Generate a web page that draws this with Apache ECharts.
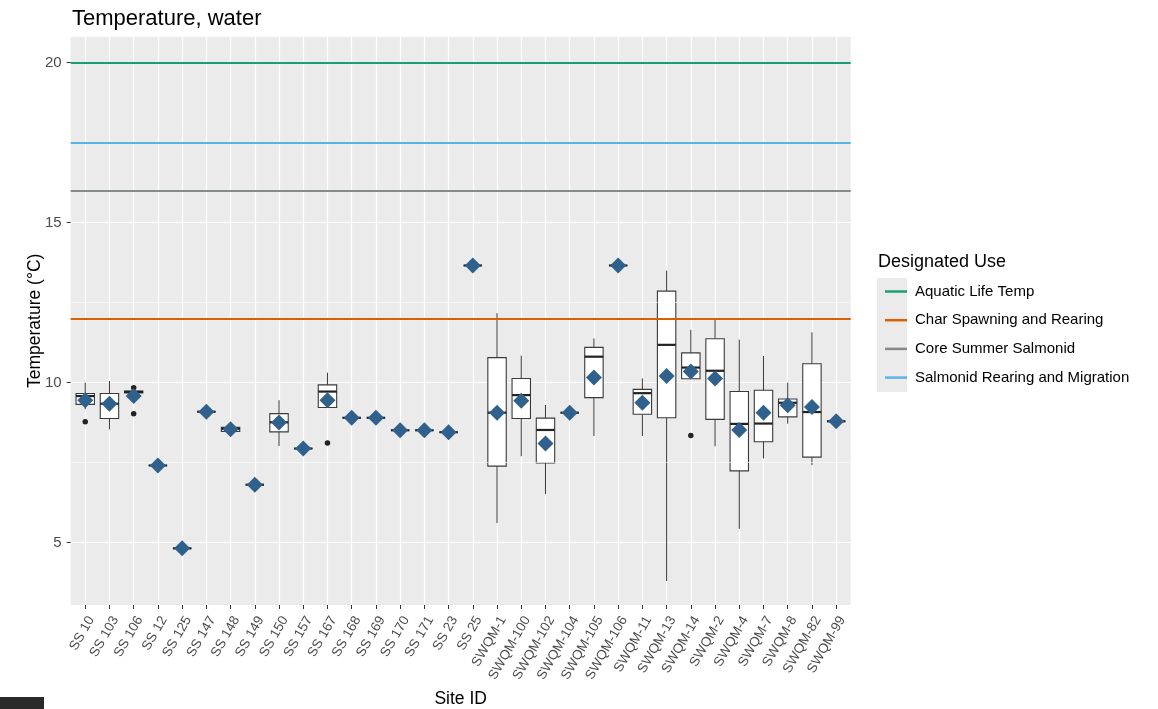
<!DOCTYPE html>
<html>
<head>
<meta charset="utf-8">
<script src="https://cdn.jsdelivr.net/npm/echarts@6/dist/echarts.min.js"></script>
<style>
  html, body { margin: 0; padding: 0; background: #fff; }
  #chart { width: 1158px; height: 709px; }
</style>
</head>
<body>
<div id="chart"></div>
<script>
// site ids on the x axis
var sites = ['SS 10', 'SS 103', 'SS 106', 'SS 12', 'SS 125', 'SS 147', 'SS 148', 'SS 149', 'SS 150',
  'SS 157', 'SS 167', 'SS 168', 'SS 169', 'SS 170', 'SS 171', 'SS 23', 'SS 25',
  'SWQM-1', 'SWQM-100', 'SWQM-102', 'SWQM-104', 'SWQM-105', 'SWQM-106', 'SWQM-11', 'SWQM-13',
  'SWQM-14', 'SWQM-2', 'SWQM-4', 'SWQM-7', 'SWQM-8', 'SWQM-82', 'SWQM-99'];

// box stats per site (whisker low, q1, median, q3, whisker high)
var whiskerLow = [9.17, 8.54, 9.68, 7.41, 4.82, 9.09, 8.47, 6.81, 8.02, 7.94, 9.22, 8.90, 8.90, 8.51, 8.51, 8.45, 13.66,
  5.61, 7.70, 6.52, 9.06, 8.33, 13.66, 8.33, 3.80, 10.12, 8.01, 5.43, 7.63, 8.72, 7.42, 8.79];
var q1 = [9.32, 8.88, 9.68, 7.41, 4.82, 9.09, 8.47, 6.81, 8.46, 7.94, 9.22, 8.90, 8.90, 8.51, 8.51, 8.45, 13.66,
  7.39, 8.88, 7.49, 9.06, 9.53, 13.66, 9.01, 8.90, 10.12, 8.85, 7.24, 8.15, 8.93, 7.67, 8.79];
var median = [9.58, 9.34, 9.71, 7.41, 4.82, 9.09, 8.55, 6.81, 8.76, 7.94, 9.72, 8.90, 8.90, 8.51, 8.51, 8.45, 13.66,
  9.06, 9.61, 8.52, 9.06, 10.81, 13.66, 9.67, 11.18, 10.47, 10.37, 8.71, 8.72, 9.37, 9.08, 8.79];
var q3 = [9.66, 9.66, 9.74, 7.41, 4.82, 9.09, 8.60, 6.81, 9.03, 7.94, 9.93, 8.90, 8.90, 8.51, 8.51, 8.45, 13.66,
  10.78, 10.13, 8.89, 9.06, 11.10, 13.66, 9.79, 12.86, 10.93, 11.37, 9.72, 9.76, 9.49, 10.59, 8.79];
var whiskerHigh = [10.00, 10.05, 9.74, 7.41, 4.82, 9.09, 8.60, 6.81, 9.45, 7.94, 10.31, 8.90, 8.90, 8.51, 8.51, 8.45, 13.66,
  12.17, 10.84, 9.30, 9.06, 11.38, 13.66, 10.13, 13.50, 11.65, 11.99, 11.34, 10.83, 10.00, 11.57, 8.79];
var means = [9.45, 9.34, 9.58, 7.41, 4.82, 9.09, 8.54, 6.81, 8.75, 7.94, 9.45, 8.90, 8.90, 8.51, 8.51, 8.45, 13.66,
  9.06, 9.43, 8.10, 9.06, 10.16, 13.66, 9.37, 10.21, 10.35, 10.13, 8.52, 9.06, 9.29, 9.24, 8.79];

// outlier points: site, value
var outlierSites = ['SS 10', 'SS 106', 'SS 106', 'SS 167', 'SWQM-14'];
var outlierValues = [8.78, 9.84, 9.03, 8.11, 8.35];

// designated use criteria
var useNames = ['Aquatic Life Temp', 'Char Spawning and Rearing', 'Core Summer Salmonid', 'Salmonid Rearing and Migration'];
var useValues = [20, 12, 16, 17.5];
var useColors = ['#1B9E77', '#D95F02', '#858B88', '#56B4E9'];

var yTicks = [5, 10, 15, 20];
var yMinor = [7.5, 12.5, 17.5];

var FONT = 'Liberation Sans, Arial, sans-serif';

// sites sit at positions 0..31 on a continuous x scale (ggplot style padding of 0.6)
var xTicks = sites.map(function (s, i) { return i; });

var boxData = sites.map(function (s, i) {
  return [i, whiskerLow[i], q1[i], median[i], q3[i], whiskerHigh[i]];
});

function renderBox(params, api) {
  var x = api.value(0);
  var lo = api.coord([x, api.value(1)]);
  var b1 = api.coord([x, api.value(2)]);
  var md = api.coord([x, api.value(3)]);
  var b3 = api.coord([x, api.value(4)]);
  var hi = api.coord([x, api.value(5)]);
  var half = api.size([1, 0])[0] * 0.38;
  var stroke = '#3a3a3a';
  return {
    type: 'group',
    children: [
      { type: 'line', shape: { x1: lo[0], y1: lo[1], x2: b1[0], y2: b1[1] }, style: { stroke: stroke, lineWidth: 1 } },
      { type: 'line', shape: { x1: b3[0], y1: b3[1], x2: hi[0], y2: hi[1] }, style: { stroke: stroke, lineWidth: 1 } },
      { type: 'rect', shape: { x: b1[0] - half, y: b3[1], width: half * 2, height: b1[1] - b3[1] },
        style: { fill: '#ffffff', stroke: stroke, lineWidth: 1.1 } },
      { type: 'line', shape: { x1: md[0] - half, y1: md[1], x2: md[0] + half, y2: md[1] },
        style: { stroke: '#222222', lineWidth: 2.2 } }
    ]
  };
}

var series = [];

// minor grid lines
series.push({
  type: 'line', data: [], silent: true, z: 1,
  markLine: {
    silent: true, symbol: 'none', animation: false,
    label: { show: false },
    lineStyle: { color: '#ffffff', width: 0.6, type: 'solid' },
    data: yMinor.map(function (v) { return { yAxis: v }; })
  }
});

useNames.forEach(function (name, i) {
  series.push({
    name: name, type: 'line', data: [], z: 3, color: useColors[i],
    markLine: {
      silent: true, symbol: 'none', animation: false,
      label: { show: false },
      lineStyle: { color: useColors[i], width: 2.2, type: 'solid' },
      data: [{ yAxis: useValues[i] }]
    }
  });
});

series.push({
  type: 'custom', renderItem: renderBox, data: boxData, z: 4,
  encode: { x: 0, y: [1, 2, 3, 4, 5] }, silent: true
});

series.push({
  type: 'scatter', z: 5, symbol: 'circle', symbolSize: 5.5, silent: true,
  itemStyle: { color: '#222222', opacity: 1 },
  data: outlierSites.map(function (s, i) { return [sites.indexOf(s), outlierValues[i]]; })
});

series.push({
  type: 'scatter', z: 6, symbol: 'diamond', symbolSize: 16, silent: true,
  itemStyle: { color: '#30618C', opacity: 1 },
  data: sites.map(function (s, i) { return [i, means[i]]; })
});

var chart = echarts.init(document.getElementById('chart'));
chart.setOption({
  animation: false,
  backgroundColor: '#ffffff',
  textStyle: { fontFamily: FONT },
  title: {
    text: 'Temperature, water', left: 67, top: 3,
    textStyle: { fontSize: 22, fontWeight: 'normal', color: '#000', fontFamily: FONT }
  },
  grid: { left: 70.7, right: 307.3, top: 36.7, bottom: 104, outerBoundsMode: 'none', containLabel: false,
    show: true, backgroundColor: '#EBEBEB', borderWidth: 0 },
  graphic: [
    { type: 'rect', z: -10, silent: true, shape: { x: 877, y: 278, width: 30, height: 114 }, style: { fill: '#EBEBEB' } },
    { type: 'text', left: 878, top: 253, silent: true,
      style: { text: 'Designated Use', fontSize: 18, fill: '#000', fontFamily: FONT } },
    { type: 'rect', silent: true, shape: { x: 0, y: 697, width: 44, height: 12 }, style: { fill: '#2A2A2A' } }
  ],
  legend: {
    orient: 'vertical', left: 880, top: 278,
    icon: 'rect', itemWidth: 22, itemHeight: 2.5, itemGap: 11.7,
    selectedMode: false,
    data: useNames,
    textStyle: { fontSize: 15, color: '#000', lineHeight: 17, padding: [0, 0, 0, 3], fontFamily: FONT }
  },
  xAxis: {
    type: 'value', min: -0.6, max: sites.length - 0.4,
    name: 'Site ID', nameLocation: 'middle', nameGap: 85, nameMoveOverlap: false,
    nameTextStyle: { fontSize: 17.5, color: '#000', fontFamily: FONT },
    axisLine: { show: false, onZero: false },
    axisTick: { show: true, length: 4, customValues: xTicks, lineStyle: { color: '#333' } },
    splitLine: { show: true, lineStyle: { color: '#ffffff', width: 1.2 } },
    axisLabel: { customValues: xTicks, rotate: 60, fontSize: 13.5, color: '#4D4D4D', margin: 9,
      verticalAlign: 'top', fontFamily: FONT,
      formatter: function (v) { return sites[Math.round(v)]; } }
  },
  yAxis: {
    type: 'value', min: 3.05, max: 20.81,
    name: 'Temperature (°C)', nameLocation: 'middle', nameGap: 27, nameRotate: 90, nameMoveOverlap: false,
    nameTextStyle: { fontSize: 17.5, color: '#000', fontFamily: FONT },
    axisLine: { show: false, onZero: false },
    axisTick: { show: true, length: 4, customValues: yTicks, lineStyle: { color: '#333' } },
    axisLabel: { customValues: yTicks, fontSize: 15, color: '#4D4D4D', margin: 9, fontFamily: FONT },
    splitLine: { show: true, lineStyle: { color: '#ffffff', width: 1.2 } }
  },
  series: series
});
</script>
</body>
</html>
